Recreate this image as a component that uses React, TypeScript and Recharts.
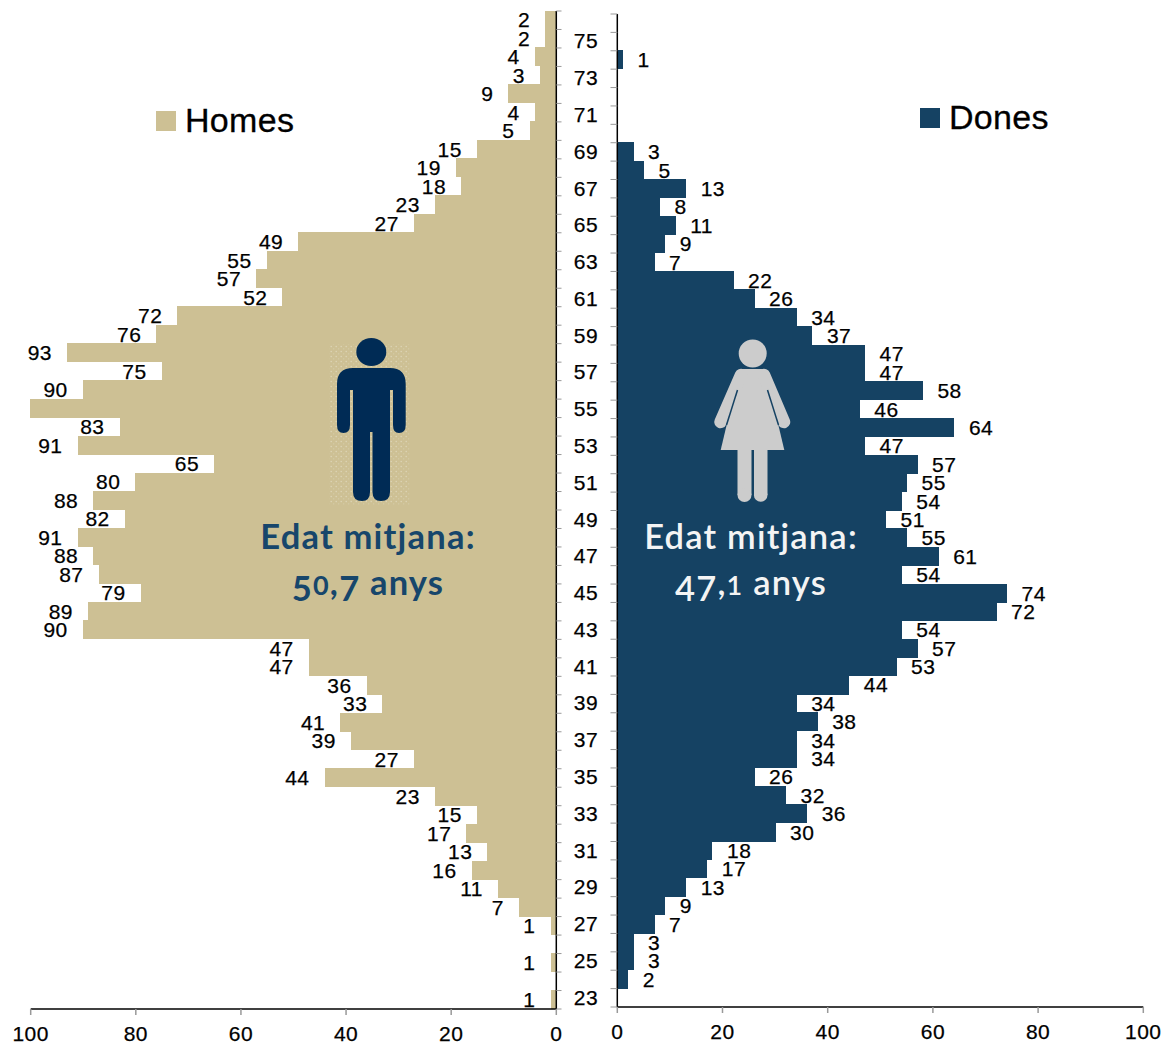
import { BarChart, Bar, XAxis, YAxis, LabelList, Legend } from "recharts";

const ages = [
  76, 75, 74, 73, 72, 71, 70, 69, 68, 67, 66, 65, 64, 63, 62, 61, 60, 59,
  58, 57, 56, 55, 54, 53, 52, 51, 50, 49, 48, 47, 46, 45, 44, 43, 42, 41,
  40, 39, 38, 37, 36, 35, 34, 33, 32, 31, 30, 29, 28, 27, 26, 25, 24, 23,
];
const homes = [
  2, 2, 4, 3, 9, 4, 5, 15, 19, 18, 23, 27, 49, 55, 57, 52, 72, 76,
  93, 75, 90, 100, 83, 91, 65, 80, 88, 82, 91, 88, 87, 79, 89, 90, 47, 47,
  36, 33, 41, 39, 27, 44, 23, 15, 17, 13, 16, 11, 7, 1, 0, 1, 0, 1,
];
const dones = [
  0, 0, 1, 0, 0, 0, 0, 3, 5, 13, 8, 11, 9, 7, 22, 26, 34, 37,
  47, 47, 58, 46, 64, 47, 57, 55, 54, 51, 55, 61, 54, 74, 72, 54, 57, 53,
  44, 34, 38, 34, 34, 26, 32, 36, 30, 18, 17, 13, 9, 7, 3, 3, 2, 0,
];
const xTicks = [0, 20, 40, 60, 80, 100];

const TAN = "#cdc094";
const NAVY = "#154263";
const FONT = "'Liberation Sans', Arial, sans-serif";
const FS = 21;
const numStyle = { fontSize: FS, fontFamily: FONT, fill: "#000", letterSpacing: 0.5, stroke: "#000", strokeWidth: 0.25 };

const rows = ages.map((age, i) => ({ age, homes: homes[i], dones: dones[i] }));
const showValue = (v: any) => (v > 0 && v < 100 ? v : "");

// ticks sit on the band edges, every second age gets a label
function LeftTick({ y, index }: any) {
  const band = 998 / ages.length;
  return (
    <g>
      <line x1={556.3} x2={561.5} y1={y - band / 2} y2={y - band / 2} stroke="#999" />
      {index === ages.length - 1 && <line x1={556.3} x2={561.5} y1={y + band / 2} y2={y + band / 2} stroke="#999" />}
    </g>
  );
}

function RightTick({ y, index, payload }: any) {
  const band = 993 / ages.length;
  return (
    <g>
      <line x1={50.5} x2={57.3} y1={y - band / 2} y2={y - band / 2} stroke="#999" />
      {index === ages.length - 1 && <line x1={50.5} x2={57.3} y1={y + band / 2} y2={y + band / 2} stroke="#999" />}
      {payload.value % 2 === 1 && (
        <text x={26} y={y - 0.7} dy="0.36em" textAnchor="middle" style={numStyle}>
          {payload.value}
        </text>
      )}
    </g>
  );
}

function LegendBox({ payload }: any) {
  const item = payload?.[0];
  if (!item) return null;
  return (
    <div style={{ display: "flex", alignItems: "center", fontFamily: FONT, fontSize: 34, color: "#000", letterSpacing: 0.3 }}>
      <span style={{ width: 20, height: 20, background: item.color, marginRight: 9 }} />
      <span style={{ WebkitTextStroke: "0.3px #000" }}>{item.value}</span>
    </div>
  );
}

function Figures() {
  return (
    <svg width={1166} height={1045} style={{ position: "absolute", left: 0, top: 0, pointerEvents: "none" }}>
      <defs>
        <pattern id="speck" width="5" height="5" patternUnits="userSpaceOnUse">
          <circle cx="1.2" cy="1.5" r="0.7" fill="#dfd7b9" />
          <circle cx="3.7" cy="3.8" r="0.6" fill="#d8cfac" />
        </pattern>
      </defs>
      <rect x={329} y={344} width={81} height={161} fill="url(#speck)" />
      <ellipse cx={371.3} cy={352} rx={15} ry={14} fill="#002b55" />
      <path
        fill="#002b55"
        d="M337 384Q337 368 353 368L390 368Q405.7 368 405.7 384L405.7 425Q405.7 433 399 433Q393 433 393 425L393 390L390 390L390 492Q390 501 381 501Q372.5 501 372.5 492L372.5 432L370 432L370 492Q370 501 362 501Q353 501 353 492L353 390L350 390L350 425Q350 433 343.5 433Q337 433 337 425Z"
      />
      <g fill="#cccccc">
        <circle cx={752.7} cy={353.5} r={14} />
        <path d="M740 369L765 369L784.3 450L720.7 450Z" />
        <rect x={737.5} y={445} width={14} height={50} />
        <rect x={754} y={445} width={13.5} height={50} />
        <circle cx={744.5} cy={495} r={7} />
        <circle cx={760.7} cy={495} r={6.8} />
      </g>
      <g stroke="#cccccc" strokeWidth={12.5} strokeLinecap="round">
        <line x1={741} y1={375} x2={720.5} y2={422} />
        <line x1={764} y1={375} x2={784} y2={422} />
      </g>
      <g stroke={NAVY} strokeWidth={1.5}>
        <line x1={737.5} y1={390} x2={726.5} y2={425} />
        <line x1={767.5} y1={390} x2={778.5} y2={425} />
      </g>
      <g fontFamily="Lato, sans-serif" fontSize={34.5} textAnchor="middle" letterSpacing={1.2}>
        <g fill="#17466b" fontWeight={700}>
          <text x={368} y={549}>Edat mitjana:</text>
          <text x={368} y={595}>
            <tspan dy={6}>5</tspan>
            <tspan dy={-6} fontSize={27}>0</tspan>
            <tspan>,</tspan>
            <tspan dy={6}>7</tspan>
            <tspan dy={-6}> anys</tspan>
          </text>
        </g>
        <g fill="#f4f4f4" fontWeight={600}>
          <text x={751} y={549}>Edat mitjana:</text>
          <text x={751} y={595}>
            <tspan dy={6}>47</tspan>
            <tspan dy={-6}>,</tspan>
            <tspan fontSize={27}>1</tspan>
            <tspan> anys</tspan>
          </text>
        </g>
      </g>
    </svg>
  );
}

export default function App() {
  return (
    <div style={{ position: "absolute", left: 0, top: 0, width: 1166, height: 1045, background: "#fff" }}>
      <div style={{ position: "absolute", left: 0, top: 0 }}>
        <BarChart
          width={600}
          height={1045}
          data={rows}
          layout="vertical"
          barCategoryGap={0}
          margin={{ top: 11, right: 0, bottom: 0, left: 30.7 }}
        >
          <XAxis
            type="number"
            domain={[0, 100]}
            reversed
            ticks={xTicks}
            height={36}
            interval={0}
            tickSize={6}
            tickMargin={11}
            tick={numStyle}
            axisLine={{ stroke: "#000", strokeWidth: 1.5 }}
            tickLine={{ stroke: "#999", strokeWidth: 1.5 }}
          />
          <YAxis
            type="category"
            dataKey="age"
            orientation="right"
            width={43.7}
            interval={0}
            tick={<LeftTick />}
            tickLine={false}
            axisLine={{ stroke: "#000", strokeWidth: 1.5 }}
          />
          <Legend
            layout="horizontal"
            verticalAlign="middle"
            align="center"
            content={<LegendBox />}
            wrapperStyle={{ left: 156, top: 101, width: 200 }}
          />
          <Bar dataKey="homes" name="Homes" fill={TAN} stroke={TAN} strokeWidth={1} shapeRendering="crispEdges" isAnimationActive={false}>
            <LabelList
              dataKey="homes"
              position="right"
              offset={15.5}
              formatter={showValue}
              style={numStyle}
            />
          </Bar>
        </BarChart>
      </div>
      <div style={{ position: "absolute", left: 560, top: 0 }}>
        <BarChart
          width={606}
          height={1045}
          data={rows}
          layout="vertical"
          barCategoryGap={0}
          margin={{ top: 14, right: 22.7, bottom: 0, left: 0 }}
        >
          <XAxis
            type="number"
            domain={[0, 100]}
            ticks={xTicks}
            height={38}
            interval={0}
            tickSize={6}
            tickMargin={11}
            tick={numStyle}
            axisLine={{ stroke: "#000", strokeWidth: 1.5 }}
            tickLine={{ stroke: "#999", strokeWidth: 1.5 }}
          />
          <YAxis
            type="category"
            dataKey="age"
            width={57.3}
            interval={0}
            tick={<RightTick />}
            tickLine={false}
            axisLine={{ stroke: "#000", strokeWidth: 1.5 }}
          />
          <Legend
            layout="horizontal"
            verticalAlign="middle"
            align="center"
            content={<LegendBox />}
            wrapperStyle={{ left: 360, top: 98, width: 200 }}
          />
          <Bar dataKey="dones" name="Dones" fill={NAVY} stroke={NAVY} strokeWidth={1} shapeRendering="crispEdges" isAnimationActive={false}>
            <LabelList
              dataKey="dones"
              position="right"
              offset={15}
              formatter={showValue}
              style={numStyle}
            />
          </Bar>
        </BarChart>
      </div>
      <Figures />
    </div>
  );
}
